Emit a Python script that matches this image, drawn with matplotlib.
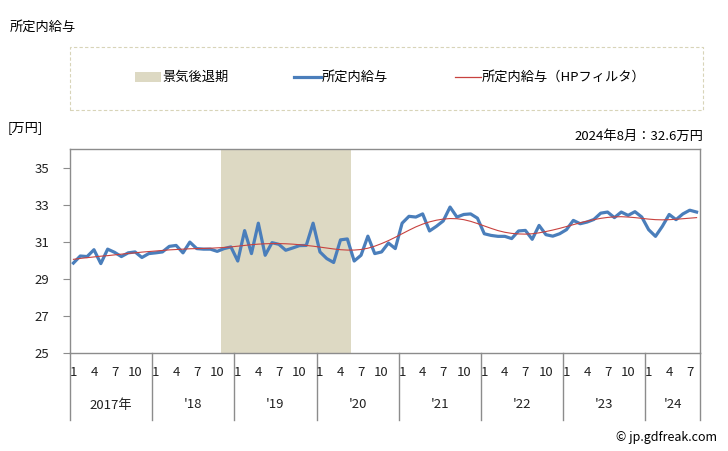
"""所定内給与 monthly chart with HP filter trend and recession shading."""
import matplotlib
matplotlib.use("Agg")
import matplotlib.pyplot as plt
from matplotlib.transforms import blended_transform_factory
from matplotlib.patches import Rectangle
from matplotlib.lines import Line2D

plt.rcParams["font.family"] = ["Noto Sans CJK JP", "DejaVu Sans"]

# --- data (2017-01 .. 2024-08) ---
years = ["2017年", "'18", "'19", "'20", "'21", "'22", "'23", "'24"]
month_ticks = [1, 4, 7, 10]
n_months = 92

salary = [
    29.85, 30.23, 30.20, 30.57, 29.82, 30.60, 30.43, 30.20, 30.40, 30.45, 30.15, 30.36,
    30.40, 30.45, 30.75, 30.80, 30.40, 30.98, 30.63, 30.60, 30.60, 30.48, 30.63, 30.72,
    29.96, 31.60, 30.36, 32.00, 30.27, 30.95, 30.86, 30.54, 30.66, 30.79, 30.80, 32.00,
    30.45, 30.09, 29.88, 31.10, 31.15, 29.96, 30.27, 31.30, 30.36, 30.45, 30.93, 30.63,
    32.00, 32.37, 32.33, 32.50, 31.58, 31.83, 32.12, 32.87, 32.33, 32.47, 32.50, 32.27,
    31.43, 31.34, 31.29, 31.29, 31.17, 31.58, 31.61, 31.13, 31.88, 31.38, 31.30, 31.43,
    31.65, 32.15, 31.97, 32.06, 32.20, 32.54, 32.60, 32.30, 32.60, 32.42, 32.62, 32.33,
    31.65, 31.29, 31.83, 32.47, 32.19, 32.50, 32.70, 32.60,
]

salary_hp = [
    30.05, 30.10, 30.14, 30.18, 30.22, 30.25, 30.29, 30.33, 30.37, 30.40, 30.44, 30.47,
    30.50, 30.53, 30.56, 30.58, 30.60, 30.62, 30.63, 30.64, 30.65, 30.67, 30.69, 30.72,
    30.76, 30.80, 30.84, 30.87, 30.89, 30.90, 30.90, 30.89, 30.87, 30.84, 30.80, 30.76,
    30.71, 30.66, 30.61, 30.57, 30.55, 30.55, 30.58, 30.65, 30.76, 30.90, 31.06, 31.24,
    31.43, 31.62, 31.80, 31.95, 32.07, 32.16, 32.22, 32.25, 32.24, 32.19, 32.10, 31.98,
    31.85, 31.72, 31.60, 31.51, 31.45, 31.42, 31.41, 31.43, 31.48, 31.55, 31.63, 31.72,
    31.82, 31.92, 32.02, 32.11, 32.19, 32.26, 32.31, 32.34, 32.35, 32.33, 32.30, 32.26,
    32.22, 32.19, 32.18, 32.19, 32.21, 32.24, 32.27, 32.30,
]

# recession: 2018-11 .. 2020-05 (month index)
recession_start, recession_end = 22, 40

y_ticks = [25, 27, 29, 31, 33, 35]

# --- figure ---
W, H = 728, 451
fig = plt.figure(figsize=(W / 100, H / 100), dpi=100)

def fx(px):
    return px / W

def fy(py):
    return 1 - py / H

ax_l, ax_r, ax_t, ax_b = 70, 700, 149, 353
ax = fig.add_axes([fx(ax_l), fy(ax_b), fx(ax_r - ax_l), (ax_b - ax_t) / H])

blue = "#4a7ebb"
red = "#c8423f"
tan = "#ddd9c3"
grey = "#8c8c8c"

x = list(range(n_months))
ax.axvspan(recession_start - 0.5, recession_end + 0.5, color=tan, lw=0)
ax.plot(x, salary, color=blue, lw=2.3, solid_joinstyle="round")
ax.plot(x, salary_hp, color=red, lw=0.8)

ax.set_xlim(-0.5, n_months - 0.5)
ax.set_ylim(25, 36.0)
ax.set_yticks(y_ticks)
ax.set_yticklabels([str(v) for v in y_ticks], fontsize=9.5, color="#222222")
ax.tick_params(axis="y", length=5, color=grey, pad=10)
ax.set_xticks([])
for s in ax.spines.values():
    s.set_color(grey)
    s.set_linewidth(1)

# category axis below
tr = blended_transform_factory(ax.transData, ax.transAxes)
ah = ax_b - ax_t
sep_bottom = -(420 - ax_b) / ah
for k in range(len(years) + 1):
    xs = -0.5 + 12 * k if k < len(years) else n_months - 0.5
    ax.add_line(Line2D([xs, xs], [0, sep_bottom], transform=tr, color=grey,
                       lw=1, clip_on=False))

month_y = -(373 - ax_b) / ah
year_y = -(405 - ax_b) / ah
for i in range(n_months):
    m = i % 12 + 1
    if m in month_ticks:
        ax.text(i, month_y, str(m), transform=tr, ha="center", va="center",
                fontsize=9.5, color="#222222")
for k, lab in enumerate(years):
    start = 12 * k - 0.5
    end = min(12 * (k + 1), n_months) - 0.5
    ax.text((start + end) / 2, year_y, lab, transform=tr, ha="center",
            va="center", fontsize=9.5, color="#222222")

# texts
fig.text(fx(10), fy(27), "所定内給与", fontsize=9.5, va="center", ha="left")
fig.text(fx(8), fy(128), "[万円]", fontsize=9.5, va="center", ha="left")
fig.text(fx(703), fy(136), "2024年8月：32.6万円", fontsize=9.5, va="center", ha="right")
fig.text(fx(717), fy(437), "© jp.gdfreak.com", fontsize=9, va="center", ha="right")

# legend box
fig.add_artist(Rectangle((fx(70), fy(110)), fx(703 - 70), (110 - 47) / H,
                         transform=fig.transFigure, fill=False, ec="#d8d4b8",
                         lw=0.8, ls=(0, (3, 2))))
ly = fy(77)
fig.add_artist(Rectangle((fx(135), fy(82)), fx(26), 10 / H, transform=fig.transFigure,
                         fc=tan, ec="none"))
fig.text(fx(162), ly, "景気後退期", fontsize=9.5, va="center", ha="left")
fig.add_artist(Line2D([fx(294), fx(321)], [ly, ly], transform=fig.transFigure,
                      color=blue, lw=2.3))
fig.text(fx(322), ly, "所定内給与", fontsize=9.5, va="center", ha="left")
fig.add_artist(Line2D([fx(455), fx(481)], [ly, ly], transform=fig.transFigure,
                      color=red, lw=0.9))
fig.text(fx(482), ly, "所定内給与（HPフィルタ）", fontsize=9.5, va="center", ha="left")

fig.savefig("out.png", dpi=100)
